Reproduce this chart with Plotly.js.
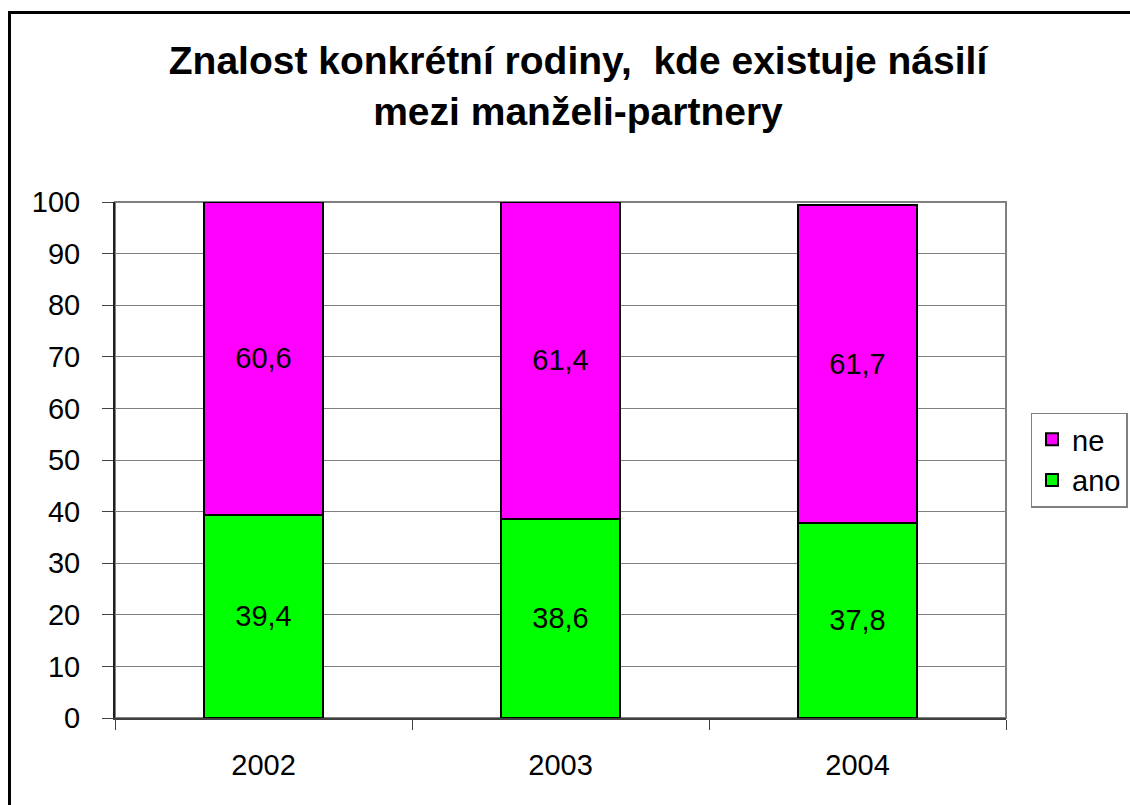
<!DOCTYPE html>
<html>
<head>
<meta charset="utf-8">
<script src="https://cdn.plot.ly/plotly-3.0.1.min.js"></script>
<style>
html,body{margin:0;padding:0;background:#fff;}
#wrap{position:relative;width:1130px;height:805px;overflow:hidden;}
#chart{width:1130px;height:805px;}
#frame{position:absolute;left:8px;top:11px;width:1200px;height:900px;border-left:3px solid #000;border-top:3px solid #000;pointer-events:none;}
</style>
</head>
<body>
<div id="wrap"><div id="chart"></div><div id="frame"></div></div>
<script>
const categories = ['2002', '2003', '2004'];
const anoValues = [39.4, 38.6, 37.8];
const neValues = [60.6, 61.4, 61.7];
const seriesNames = ['ano', 'ne'];
const yTicks = [0, 10, 20, 30, 40, 50, 60, 70, 80, 90, 100];

function fmt(v){ return v.toFixed(1).replace('.', ','); }

const FONT = 'Liberation Sans, Arial, sans-serif';

const common = {
  type: 'bar',
  x: categories,
  textposition: 'inside',
  insidetextanchor: 'middle',
  textfont: {family: FONT, size: 29, color: '#000'},
  hoverinfo: 'none',
  cliponaxis: false
};

const traces = [
  Object.assign({}, common, {
    name: seriesNames[0], y: anoValues, text: anoValues.map(fmt),
    marker: {color: '#00FF00', line: {color: '#000', width: 2}}
  }),
  Object.assign({}, common, {
    name: seriesNames[1], y: neValues, text: neValues.map(fmt),
    marker: {color: '#FF00FF', line: {color: '#000', width: 2}}
  })
];

const layout = {
  width: 1130, height: 805,
  margin: {l: 115, r: 124, t: 202, b: 87, autoexpand: false},
  paper_bgcolor: '#fff', plot_bgcolor: '#fff',
  barmode: 'stack',
  bargap: 0.6,
  font: {family: FONT, size: 29, color: '#000'},
  title: {
    text: '<b>Znalost konkrétní rodiny,  kde existuje násilí<br>mezi manželi-partnery</b>',
    font: {family: FONT, size: 39, color: '#000'},
    x: 0.5115, xanchor: 'center', yref: 'container', y: 0.908, yanchor: 'middle'
  },
  xaxis: {
    type: 'category',
    showgrid: false,
    showline: true, linecolor: '#404040', linewidth: 2,
    ticks: 'outside', tickson: 'boundaries', ticklen: 10, tickcolor: '#404040', tickwidth: 1,
    tickfont: {size: 29},
    ticklabelstandoff: 20,
    fixedrange: true
  },
  yaxis: {
    range: [0, 100],
    tickvals: yTicks,
    showgrid: true, gridcolor: '#808080', gridwidth: 1,
    showline: true, linecolor: '#202020', linewidth: 2,
    ticks: 'outside', ticklen: 11, tickcolor: '#404040', tickwidth: 1,
    tickfont: {size: 29},
    ticklabelstandoff: 16,
    zeroline: false,
    fixedrange: true
  },
  shapes: [{
    type: 'rect', xref: 'paper', yref: 'paper', x0: 0, x1: 1, y0: 0, y1: 1,
    line: {color: '#808080', width: 2}, layer: 'below'
  }],
  showlegend: true,
  legend: {
    x: 1.0275, xanchor: 'left', y: 0.5, yanchor: 'middle',
    bordercolor: '#808080', borderwidth: 1.5, bgcolor: '#fff',
    font: {size: 29},
    itemwidth: 30
  },
  separators: ', '
};

Plotly.newPlot('chart', traces, layout, {displayModeBar: false, staticPlot: true});
</script>
</body>
</html>
